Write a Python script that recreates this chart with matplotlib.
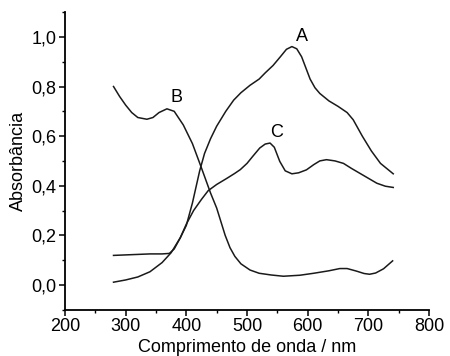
import matplotlib
matplotlib.use('Agg')
import matplotlib.pyplot as plt
from matplotlib.ticker import MultipleLocator, FuncFormatter

# curve A
wl_a = [280, 300, 320, 340, 360, 375, 390, 400, 410, 422, 430, 440, 450, 465, 478,
        490, 505, 520, 530, 543, 555, 565, 574, 582, 590, 597, 604, 612, 620, 635,
        650, 665, 675, 690, 705, 720, 741]
abs_a = [0.011, 0.02, 0.032, 0.053, 0.09, 0.13, 0.19, 0.24, 0.33, 0.46, 0.53, 0.59,
         0.64, 0.70, 0.745, 0.775, 0.805, 0.83, 0.855, 0.885, 0.92, 0.95, 0.961, 0.952,
         0.92, 0.875, 0.83, 0.795, 0.772, 0.742, 0.72, 0.695, 0.666, 0.60, 0.54, 0.49,
         0.448]

# curve B
wl_b = [280, 290, 300, 310, 320, 335, 345, 355, 368, 380, 395, 410, 424, 440, 450,
        464, 472, 480, 490, 505, 520, 540, 560, 587, 610, 635, 653, 665, 680, 693,
        702, 712, 725, 740]
abs_b = [0.80, 0.76, 0.725, 0.695, 0.675, 0.668, 0.675, 0.695, 0.71, 0.70, 0.645,
         0.57, 0.478, 0.37, 0.31, 0.20, 0.15, 0.115, 0.085, 0.06, 0.047, 0.04, 0.035,
         0.039, 0.047, 0.057, 0.066, 0.066, 0.056, 0.046, 0.043, 0.048, 0.065, 0.097]

# curve C
wl_c = [280, 300, 320, 340, 360, 372, 380, 390, 400, 412, 425, 436, 450, 467, 480,
        489, 500, 510, 521, 530, 538, 545, 554, 563, 574, 585, 598, 610, 620, 631,
        645, 659, 672, 686, 700, 714, 728, 741]
abs_c = [0.119, 0.121, 0.123, 0.125, 0.125, 0.127, 0.145, 0.19, 0.245, 0.30, 0.345,
         0.38, 0.405, 0.43, 0.45, 0.465, 0.49, 0.52, 0.552, 0.568, 0.572, 0.555,
         0.498, 0.46, 0.448, 0.452, 0.464, 0.485, 0.50, 0.505, 0.50, 0.49, 0.47,
         0.45, 0.43, 0.41, 0.398, 0.393]

labels = ['A', 'B', 'C']
label_pos = [(590, 1.0), (384, 0.755), (549, 0.615)]

plt.rcParams['font.family'] = ['Liberation Sans', 'DejaVu Sans']

fig = plt.figure(figsize=(4.5, 3.56), dpi=100)
ax = fig.add_axes([0.1444, 0.130, 0.809, 0.836])

for wl, ab in [(wl_a, abs_a), (wl_b, abs_b), (wl_c, abs_c)]:
    ax.plot(wl, ab, color='#1a1a1a', lw=1.1)

for name, (x, y) in zip(labels, label_pos):
    ax.text(x, y, name, fontsize=13, ha='center', va='center')

ax.set_xlim(200, 800)
ax.set_ylim(-0.1, 1.1)
ax.xaxis.set_major_locator(MultipleLocator(100))
ax.xaxis.set_minor_locator(MultipleLocator(50))
ax.yaxis.set_major_locator(MultipleLocator(0.2))
ax.yaxis.set_minor_locator(MultipleLocator(0.1))
ax.yaxis.set_major_formatter(FuncFormatter(lambda v, p: '{:.1f}'.format(v).replace('.', ',').replace('-0,0', '0,0')))

for s in ['top', 'right']:
    ax.spines[s].set_visible(False)
for s in ['left', 'bottom']:
    ax.spines[s].set_linewidth(1.3)

ax.tick_params(which='major', length=4, width=1.1, labelsize=13, pad=2)
ax.tick_params(which='minor', length=2.5, width=1.0)

ax.set_xlabel('Comprimento de onda / nm', fontsize=13, labelpad=3)
ax.set_ylabel('Absorbância', fontsize=13, labelpad=3)

fig.savefig('out.png', dpi=100)
